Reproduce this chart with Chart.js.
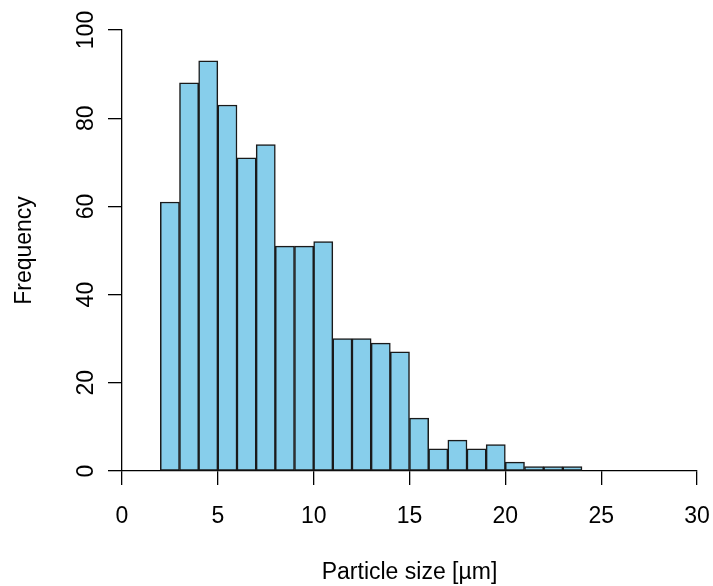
<!DOCTYPE html>
<html>
<head>
<meta charset="utf-8">
<script src="https://cdn.jsdelivr.net/npm/chart.js@4/dist/chart.umd.min.js"></script>
<style>
  html, body { margin: 0; padding: 0; background: #fff; }
  #wrap { width: 713px; height: 586px; }
</style>
</head>
<body>
<div id="wrap"><canvas id="histChart" width="713" height="586"></canvas></div>
<script>
// histogram bins (width 1 um) and counts
const binStarts = [2, 3, 4, 5, 6, 7, 8, 9, 10, 11, 12, 13, 14, 15, 16, 17, 18, 19, 20, 21, 22, 23];
const counts = [61, 88, 93, 83, 71, 74, 51, 51, 52, 30, 30, 29, 27, 12, 5, 7, 5, 6, 2, 1, 1, 1];
const xTicks = [0, 5, 10, 15, 20, 25, 30];
const yTicks = [0, 20, 40, 60, 80, 100];

const FONT = "'Liberation Sans', Arial, sans-serif";

let points = binStarts.map((s, i) => ({ x: s + 0.5, y: counts[i] }));

let ctx = document.getElementById("histChart").getContext("2d");
let chart = new Chart(ctx, {
    type: "bar",
    data: {
        datasets: [{
            label: "Frequency",
            data: points,
            backgroundColor: "#87CEEB",
            borderColor: "#1a1a1a",
            borderWidth: 1.5,
            borderSkipped: false,
            barPercentage: 1,
            categoryPercentage: 1
        }]
    },
    options: {
        responsive: false,
        animation: false,
        devicePixelRatio: 1,
        layout: { padding: { top: 30, right: 16, left: 0, bottom: 0 } },
        plugins: { legend: { display: false }, tooltip: { enabled: false } },
        scales: {
            x: {
                type: "linear",
                min: 0,
                max: 30,
                offset: false,
                grid: { offset: false, drawOnChartArea: false, drawTicks: true, tickLength: 14, color: "#000", lineWidth: 1.3 },
                border: { display: true, color: "#000", width: 1.3 },
                afterBuildTicks: function (scale) {
                    scale.ticks = xTicks.map(v => ({ value: v }));
                },
                afterFit: function (scale) {
                    scale.height = 115;
                    scale.paddingLeft = 0;
                    scale.paddingRight = 0;
                },
                ticks: {
                    color: "#000",
                    font: { family: FONT, size: 23 },
                    padding: 18,
                    maxRotation: 0,
                    callback: v => String(v)
                },
                title: {
                    display: true,
                    text: "Particle size [µm]",
                    color: "#000",
                    font: { family: FONT, size: 23 },
                    padding: { top: 0, bottom: 0 }
                }
            },
            y: {
                min: 0,
                max: 100,
                grid: { drawOnChartArea: false, drawTicks: true, tickLength: 14, color: "#000", lineWidth: 1.3 },
                border: { display: true, color: "#000", width: 1.3 },
                afterBuildTicks: function (scale) {
                    scale.ticks = yTicks.map(v => ({ value: v }));
                },
                afterFit: function (scale) {
                    scale.width = 122;
                    scale.paddingTop = 0;
                    scale.paddingBottom = 0;
                },
                ticks: {
                    color: "#000",
                    font: { family: FONT, size: 23 },
                    padding: 2,
                    minRotation: 90,
                    maxRotation: 90,
                    crossAlign: "center",
                    callback: v => String(v)
                },
                title: {
                    display: true,
                    text: "Frequency",
                    color: "#000",
                    font: { family: FONT, size: 23 },
                    padding: { top: 11, bottom: 0 }
                }
            }
        }
    }
});
</script>
</body>
</html>
